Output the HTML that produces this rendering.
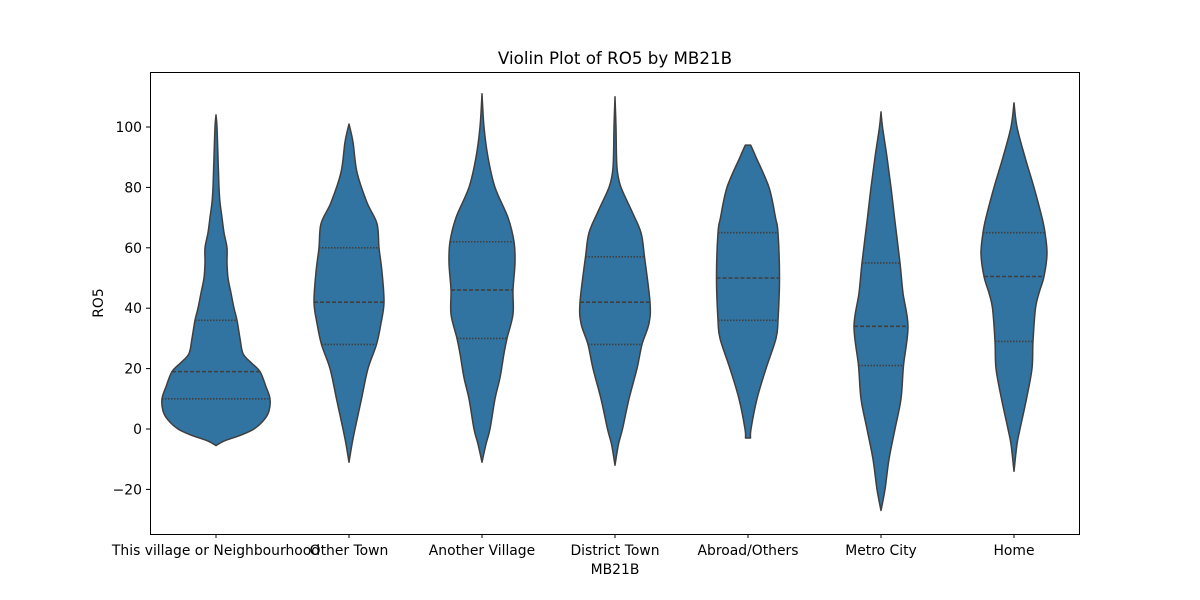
<!DOCTYPE html>
<html><head><meta charset="utf-8"><style>
body{margin:0;background:#fff;}
svg{display:block;font-family:"DejaVu Sans","Liberation Sans",sans-serif;}
</style></head><body>
<svg id="chart" width="1200" height="600">
<rect x="0" y="0" width="1200" height="600" fill="#fff"/>
<text x="615" y="64" font-size="16.7" text-anchor="middle">Violin Plot of RO5 by MB21B</text>
<g id="plot"></g>
<rect x="150.5" y="72.5" width="929" height="462" fill="none" stroke="#000" stroke-width="1"/>
<text x="615" y="574" font-size="13.9" text-anchor="middle">MB21B</text>
<text x="0" y="0" font-size="13.9" text-anchor="middle" transform="translate(103,303) rotate(-90)">RO5</text>
</svg>
<script>
const categories=["This village or Neighbourhood","Other Town","Another Village","District Town","Abroad/Others","Metro City","Home"];
const yTicks=[-20,0,20,40,60,80,100];
const v1Vals=[-5.5,-4,-2,0,3,6,10,14,19,22,25,30,36,40,45,50,55,60,65,70,75,80,90,100,104];
const v1Dens=[0,8,25,38,48,53,54,50,44,35,27,24,21,18,15,12,11,11,8,6,4,3,2,1,0];
const v2Vals=[-11,-5,0,10,20,28,35,42,52,60,68,75,85,95,101];
const v2Dens=[0,3,6,12.5,19,27.5,32,35,33,30,28,18,8,4,0];
const v3Vals=[-11,-5,0,10,17,25,30,38,46,55,62,70,80,90,100,111];
const v3Dens=[0,4,8,13,18,22,25,31,31,33,32,26,13,6,2,0];
const v4Vals=[-12,-5,0,10,20,28,35,42,57,65,72,80,85,90,100,110];
const v4Dens=[0,3.5,7.5,14,22,27,34,35,29.5,26,17,6,2.5,1.5,1,0];
const v5Vals=[-3,0,10,20,30,36,50,65,70,80,90,94];
const v5Dens=[2.5,3,9,18,28,30,31.5,30,27.5,21,8,2.7];
const v6Vals=[-27,-20,-10,0,10,21,34,45,55,70,80,90,100,105];
const v6Dens=[0,4,8,14,20,22.5,27,22,19,13.5,10,6,1.5,0];
const v7Vals=[-14,-5,0,10,20,29,40,45,50.5,58,65,70,80,90,100,108];
const v7Dens=[0,3,6,12.5,18,19,21.5,25,30,33,31,28,20,11,3,0];
const quartiles=[[10,19,36],[28,42,60],[30,46,62],[28,42,57],[36,50,65],[21,34,55],[29,50.5,65]];
const allVals=[v1Vals,v2Vals,v3Vals,v4Vals,v5Vals,v6Vals,v7Vals];
const allDens=[v1Dens,v2Dens,v3Dens,v4Dens,v5Dens,v6Dens,v7Dens];

const NS="http://www.w3.org/2000/svg";
const plot=document.getElementById('plot');
function yScale(v){return 429-v*3.02;}
function xScale(i){return 216+i*133;}
function mk(t,a){const e=document.createElementNS(NS,t);for(const k in a)e.setAttribute(k,a[k]);return e;}
function interp(vals,dens,v){for(let i=0;i<vals.length-1;i++){if(v>=vals[i]&&v<=vals[i+1]){const t=(v-vals[i])/(vals[i+1]-vals[i]);return dens[i]+t*(dens[i+1]-dens[i]);}}return 0;}
function crPath(pts,move){let d=move?`M${pts[0][0]},${pts[0][1]}`:`L${pts[0][0]},${pts[0][1]}`;
for(let i=0;i<pts.length-1;i++){const p0=pts[Math.max(0,i-1)],p1=pts[i],p2=pts[i+1],p3=pts[Math.min(pts.length-1,i+2)];
const c1=[p1[0]+(p2[0]-p0[0])/6,p1[1]+(p2[1]-p0[1])/6],c2=[p2[0]-(p3[0]-p1[0])/6,p2[1]-(p3[1]-p1[1])/6];
d+=`C${c1[0].toFixed(2)},${c1[1].toFixed(2)} ${c2[0].toFixed(2)},${c2[1].toFixed(2)} ${p2[0].toFixed(2)},${p2[1].toFixed(2)}`;}return d;}

yTicks.forEach(t=>{const y=yScale(t);
const tk=mk('line',{x1:146,x2:150,y1:y,y2:y,stroke:'#000'});


plot.appendChild(tk);
const lb=mk('text',{x:142,y:y+5,'font-size':13.9,'text-anchor':'end'});lb.textContent=t<0?'\u2212'+(-t):t;


plot.appendChild(lb);});

categories.forEach((c,i)=>{const cx=xScale(i);const vals=allVals[i],dens=allDens[i];
const right=vals.map((v,k)=>[cx+dens[k],yScale(v)]);
const left=vals.map((v,k)=>[cx-dens[k],yScale(v)]).reverse();
const d=crPath(right,true)+crPath(left,false)+'Z';
const p=mk('path',{d:d,fill:'#3274a1',stroke:'#3f3f3f','stroke-width':1.5,'stroke-linejoin':'round'});


plot.appendChild(p);
quartiles[i].forEach((q,k)=>{const w=interp(vals,dens,q);const y=yScale(q);
const l=mk('line',{x1:cx-w,x2:cx+w,y1:y,y2:y,stroke:'#3f3f3f','stroke-width':1.6,'stroke-dasharray':k==1?'4,2':'1.5,1.5'});


plot.appendChild(l);});
const tk=mk('line',{x1:cx,x2:cx,y1:534,y2:538,stroke:'#000'});


plot.appendChild(tk);
const lb=mk('text',{x:cx,y:555,'font-size':13.9,'text-anchor':'middle'});lb.textContent=c;


plot.appendChild(lb);});
</script>
</body></html>
